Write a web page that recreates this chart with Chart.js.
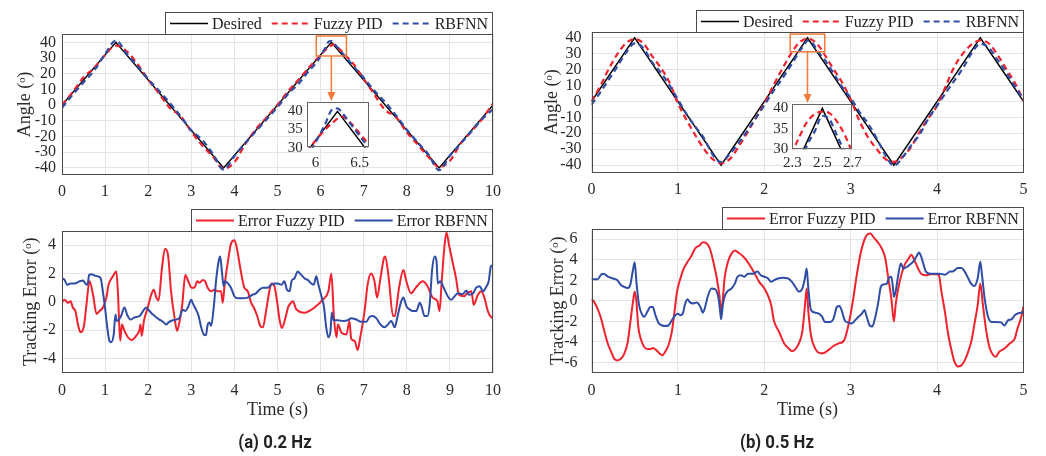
<!DOCTYPE html>
<html>
<head>
<meta charset="utf-8">
<script src="https://cdn.jsdelivr.net/npm/chart.js@4.4.1/dist/chart.umd.min.js"></script>
<style>
  body { margin: 0; background: #fff; }
  #page { position: relative; width: 1046px; height: 456px; overflow: hidden; }
  canvas { position: absolute; }
  .cap { position: absolute; transform: translateX(-50%) scaleX(0.93); font-family: Roboto, "Noto Sans", sans-serif;
         font-weight: bold; font-size: 18px; line-height: 20px; color: #222; white-space: nowrap; }
</style>
</head>
<body>
<div id="page">
  <canvas id="angleA" width="520" height="200" style="left:0;top:0"></canvas>
  <canvas id="angleB" width="526" height="200" style="left:520px;top:0"></canvas>
  <canvas id="errA" width="520" height="256" style="left:0;top:200px"></canvas>
  <canvas id="errB" width="526" height="256" style="left:520px;top:200px"></canvas>
  <canvas id="insetA" width="110" height="80" style="left:270px;top:98px"></canvas>
  <canvas id="insetB" width="115" height="80" style="left:752px;top:100px"></canvas>
  <div class="cap" style="left:275px;top:432px">(a) 0.2 Hz</div>
  <div class="cap" style="left:777px;top:432px">(b) 0.5 Hz</div>
</div>
<script>
// ---- 0.2 Hz run ----
const refTimeA = [0, 1.25, 3.75, 6.25, 8.75, 10];
const refAngleA = [0, 40, -40, 40, -40, 0];
const respTimeA = [0,0.25,0.5,0.75,1,1.25,1.5,1.75,2,2.25,2.5,2.75,3,3.25,3.5,3.75,4,4.25,4.5,4.75,5,5.25,5.5,5.75,
  5.9,6,6.1,6.2,6.25,6.3,6.4,6.5,6.6,
  6.75,7,7.25,7.5,7.75,8,8.25,8.5,8.75,9,9.25,9.5,9.75,10];
const fuzzyAngleA = [0,8.4,17.7,23.8,32,37.9,34.3,26.2,16.3,7.4,-1.8,-7.0,-17,-25.5,-32.8,-40.5,-36.4,-24.9,-15.2,-7.7,0.2,9,16.6,24.6,
  29.1,31.9,34.8,37.0,38.0,38.6,36.8,34.0,31.1,
  26.7,16.8,6.6,-3.2,-7.5,-17.4,-25.1,-33,-39.4,-35.5,-24.5,-16.7,-8.7,1.1];
const rbfAngleA = [-1.65,6.7,14.55,22.15,32.5,41.2,32.8,25,16.5,9.2,1.4,-7,-16.15,-22,-31,-41.1,-32.4,-24.25,-16.6,-9,-1.3,7.2,14,22.6,
  27.0,31.4,36.0,40.7,40.8,39.7,36.5,33.3,30.1,
  25.2,17.4,9.1,1.8,-6.5,-15.65,-23.6,-31.4,-41.4,-32.2,-24.5,-16.6,-8.8,-2.6];

const errTimeFA = [0,0.06,0.14,0.2,0.25,0.31,0.37,0.43,0.51,0.56,0.64,0.72,0.8,0.87,0.95,1.03,1.08,1.18,1.26,1.3,
  1.35,1.39,1.45,1.53,1.61,1.72,1.8,1.82,1.85,1.9,1.99,2.07,2.13,2.19,2.24,2.32,2.39,2.46,2.53,2.61,
  2.67,2.73,2.79,2.86,2.93,3.01,3.07,3.14,3.19,3.27,3.32,3.38,3.46,3.54,3.61,3.69,3.73,3.77,3.85,3.92,
  4,4.06,4.15,4.23,4.31,4.39,4.45,4.53,4.6,4.66,4.73,4.81,4.86,4.93,5,5.05,5.1,5.17,5.25,5.32,
  5.36,5.43,5.63,5.7,5.86,6.05,6.18,6.25,6.31,6.37,6.4,6.49,6.6,6.67,6.71,6.79,6.86,6.92,7.02,7.09,
  7.17,7.25,7.31,7.39,7.47,7.5,7.58,7.68,7.72,7.82,7.92,7.99,8.1,8.21,8.37,8.48,8.6,8.71,8.76,8.81,
  8.87,8.92,8.98,9.06,9.14,9.21,9.33,9.4,9.5,9.55,9.65,9.73,9.8,9.88,9.96,10];
const errFuzzyA = [0,0.15,-0.07,0.05,-0.4,-0.65,-1.6,-2.15,-1.7,-0.4,1.45,0.5,-0.85,-0.65,-0.4,0.3,1.2,1.8,2.15,0.5,
  -2.75,-1.6,-2.05,-2.5,-2.7,-2.4,-1.95,-1.6,-2.4,-1.35,-0.4,0.5,0.85,0.3,0.1,2.4,3.75,3.3,0.75,-1.1,
  -2.05,-1.35,-0.2,1.9,1.45,1.0,1.0,1.45,1.35,1.55,1.45,1.0,0.75,0.85,0.75,0.75,-0.07,1.1,2.85,4.1,
  4.35,3.75,2.15,1.0,0.75,-0.07,-0.4,-1.0,-1.7,-1.8,-0.75,0.75,1.3,1.1,-0.2,-1.3,-1.85,-1.3,-0.35,-0.05,
  0.05,-0.5,-0.77,-0.7,-0.4,0.15,0.75,2.0,-1.1,-2.5,-1.6,-2.2,-2.3,-1.35,-2.6,-2.75,-3.4,-2.5,-0.65,1.2,
  2.0,1.45,0.3,1.7,3.1,3.2,1.7,-1.0,-1.0,1.0,2.25,1.45,0.6,1.0,1.45,1.1,0.3,0.05,-0.65,1.45,
  3.8,4.9,4.0,2.85,1.7,0.5,0.4,0.6,0.75,-0.2,0.5,0.75,0.3,-0.65,-1.1,-1.15];

const errTimeRA = [0,0.06,0.12,0.2,0.29,0.41,0.49,0.54,0.59,0.63,0.68,0.76,0.83,0.9,0.93,0.99,1.05,1.1,1.14,1.2,
  1.24,1.27,1.32,1.37,1.45,1.51,1.59,1.68,1.8,1.88,1.95,2.03,2.11,2.19,2.26,2.34,2.42,2.47,2.57,2.65,
  2.73,2.8,2.86,2.92,3,3.03,3.11,3.17,3.23,3.29,3.34,3.38,3.42,3.46,3.52,3.58,3.64,3.67,3.71,3.75,
  3.78,3.85,3.92,4,4.08,4.19,4.31,4.42,4.5,4.58,4.66,4.77,4.85,4.93,5,5.09,5.16,5.22,5.28,5.33,
  5.39,5.47,5.55,5.63,5.7,5.78,5.84,5.9,5.95,6.01,6.08,6.13,6.18,6.23,6.26,6.3,6.4,6.52,6.63,6.71,
  6.83,6.94,7.06,7.14,7.21,7.29,7.39,7.48,7.56,7.64,7.72,7.78,7.86,7.92,7.99,8.07,8.14,8.22,8.3,8.35,
  8.41,8.48,8.53,8.59,8.65,8.69,8.72,8.78,8.84,8.95,9.03,9.11,9.19,9.3,9.38,9.44,9.54,9.61,9.69,9.77,
  9.85,9.9,9.95,10];
const errRbfA = [1.65,1.55,1.2,1.3,1.3,1.45,1.5,1.3,1.2,1.9,1.95,1.85,1.8,1.65,1.1,-0.2,-1.8,-2.75,-2.85,-2.3,
  -0.9,-1.35,-1.25,-1.0,-0.4,-0.9,-1.25,-1.1,-1.0,-0.65,-0.4,-0.65,-0.9,-1.1,-1.25,-1.4,-1.6,-1.45,-1.3,-1.25,
  -1.1,-0.55,-0.65,-0.4,0.15,-0.07,-0.55,-1.0,-1.8,-2.3,-2.35,-1.6,-1.45,-1.7,-0.4,1.65,2.95,3.2,2.15,1.1,
  1.45,1.3,1.0,0.4,0.25,0.25,0.3,0.5,0.6,0.85,1.0,1.0,1.2,1.3,1.3,1.2,1.45,0.85,0.75,1.5,
  1.65,2.15,1.9,1.65,1.55,1.3,1.2,1.8,1.2,0.5,-0.4,-1.8,-2.5,-2.05,-0.75,-1.3,-1.3,-1.35,-1.3,-1.15,
  -1.25,-1.4,-1.4,-1.05,-1.0,-1.15,-1.6,-1.8,-1.6,-1.35,-1.8,-1.1,-0.07,0.3,-0.3,-0.55,-0.65,-0.65,-0.07,-0.4,
  -1.0,-1.0,-0.2,2.35,3.2,2.85,1.3,1.45,1.1,0.4,0.15,0.4,0.6,0.55,0.8,0.5,0.6,1.0,1.1,0.75,
  1.1,1.45,2.5,2.6];

// ---- 0.5 Hz run ----
const refTimeB = [0, 0.5, 1.5, 2.5, 3.5, 4.5, 5];
const refAngleB = [0, 40, -40, 40, -40, 40, 0];
const respTimeB = [0,0.1,0.2,0.3,0.4,0.5,0.6,0.7,0.8,0.9,1,1.1,1.2,1.3,1.4,1.5,1.6,1.7,1.8,1.9,2,2.1,2.2,2.3,
  2.35,2.4,2.45,2.5,2.55,2.6,2.65,2.7,
  2.8,2.9,3,3.1,3.2,3.3,3.4,3.5,3.6,3.7,3.8,3.9,4,4.1,4.2,4.3,4.4,4.5,4.6,4.7,4.8,4.9,5];
const fuzzyAngleB = [-0.2,9.5,20.4,29.8,36.6,39.1,36.5,28.6,21.3,12.2,-1.2,-11.65,-21.1,-29.7,-36.1,-38.9,-36.3,-28.7,-19.9,-10.5,-1.2,9.5,19.6,29.2,
  33.3,36.8,38.6,39.2,38.8,36.7,33.5,29.2,
  20.4,12,1.2,-12.1,-22.5,-29.85,-36.15,-38,-34.9,-28.5,-18.9,-10.55,-2.6,9.6,21.9,30.1,35.8,38.3,36.4,29.2,20.5,11.65,0.55];
const rbfAngleB = [-2.1,5.55,13.7,22,30.7,36.5,33.45,24.7,18.3,10.35,1.25,-8,-15.8,-23,-33.2,-38.2,-33.05,-26.4,-18.6,-10.75,-2.35,6.05,13.75,22,
  26.4,31.1,34.4,38.2,37.2,33.2,29.4,26.05,
  17.75,9.05,2.2,-6.55,-13.9,-23.1,-33.65,-40.4,-35.3,-27.6,-20.6,-10.7,-2.65,5.4,13.1,21,30.4,36.2,33.65,26.05,18.1,9.4,1.05];

const errTimeFB = [0,0.03,0.07,0.11,0.15,0.19,0.23,0.26,0.3,0.34,0.38,0.42,0.45,0.48,0.5,0.52,0.54,0.57,0.61,0.65,
  0.68,0.71,0.75,0.79,0.82,0.85,0.89,0.93,0.96,0.99,1.03,1.06,1.1,1.15,1.2,1.25,1.29,1.33,1.37,1.41,
  1.45,1.48,1.5,1.52,1.54,1.58,1.62,1.66,1.7,1.74,1.79,1.83,1.89,1.94,1.99,2.04,2.08,2.11,2.17,2.23,
  2.29,2.32,2.36,2.4,2.44,2.47,2.49,2.51,2.54,2.59,2.65,2.68,2.74,2.8,2.86,2.92,2.95,2.99,3.03,3.07,
  3.11,3.15,3.19,3.23,3.26,3.31,3.36,3.4,3.43,3.47,3.5,3.52,3.55,3.59,3.63,3.67,3.7,3.73,3.78,3.82,
  3.88,3.93,3.99,4.02,4.05,4.09,4.13,4.17,4.2,4.24,4.28,4.32,4.36,4.4,4.43,4.47,4.5,4.53,4.57,4.61,
  4.65,4.68,4.72,4.78,4.84,4.9,4.93,4.97,5];
const errFuzzyB = [0.2,-0.1,-0.75,-1.7,-3.0,-4.2,-5.0,-5.6,-5.8,-5.65,-5.15,-4.0,-2.05,-0.1,0.9,-0.1,-2.4,-3.7,-4.5,-4.7,
  -4.7,-4.6,-4.8,-5.15,-5.3,-5.0,-4.35,-3.0,-1.1,0.9,2.2,3.0,3.65,4.3,5.1,5.4,5.7,5.6,5.1,3.8,
  2.2,0.55,-1.1,0.2,2.2,3.8,4.6,4.9,4.7,4.45,4.0,3.5,2.65,1.85,1.35,0.55,-0.4,-1.9,-3.0,-4.15,
  -4.7,-4.9,-4.7,-4.15,-3.0,-0.5,1.2,-1.05,-3.35,-4.65,-5.1,-5.1,-4.8,-4.4,-4.15,-3.9,-3.2,-1.7,0.25,2.5,
  4.45,5.75,6.45,6.55,6.25,5.75,5.1,4.15,2.5,0.25,-2.0,-0.4,1.2,2.65,3.6,4.1,4.5,4.1,3.15,2.6,
  2.5,2.6,2.6,2.5,0.9,-1.05,-3.35,-4.95,-5.9,-6.4,-6.3,-5.8,-4.95,-3.8,-2.35,-0.4,1.7,-0.4,-3.0,-4.65,
  -5.3,-5.45,-4.95,-4.65,-4.15,-3.65,-2.7,-1.7,-0.55];

const errTimeRB = [0,0.07,0.11,0.14,0.19,0.24,0.3,0.34,0.38,0.42,0.45,0.48,0.5,0.52,0.55,0.59,0.61,0.65,0.68,0.71,
  0.74,0.78,0.82,0.85,0.89,0.93,0.97,1,1.03,1.06,1.08,1.11,1.14,1.18,1.22,1.26,1.29,1.31,1.35,1.39,
  1.43,1.47,1.49,1.5,1.52,1.54,1.57,1.62,1.66,1.69,1.73,1.77,1.81,1.87,1.92,1.96,2,2.04,2.08,2.11,
  2.17,2.21,2.27,2.32,2.36,2.4,2.44,2.47,2.49,2.51,2.54,2.59,2.63,2.67,2.7,2.76,2.8,2.84,2.87,2.9,
  2.93,2.97,3.01,3.05,3.09,3.13,3.16,3.18,3.22,3.25,3.28,3.32,3.35,3.38,3.42,3.44,3.47,3.49,3.5,3.52,
  3.55,3.58,3.61,3.65,3.68,3.72,3.76,3.79,3.81,3.84,3.87,3.92,3.97,4.03,4.09,4.15,4.18,4.24,4.28,4.32,
  4.36,4.4,4.43,4.47,4.5,4.52,4.55,4.59,4.63,4.68,4.74,4.78,4.82,4.86,4.9,4.93,4.97,5];
const errRbfB = [2.1,2.1,2.55,2.65,2.35,2.2,2.0,1.55,1.35,1.25,1.6,3.0,3.75,1.85,-0.4,-1.4,-1.55,-1.0,-0.6,-0.6,
  -1.4,-2.2,-2.4,-2.45,-2.4,-1.9,-1.4,-1.25,-1.4,-1.15,-0.4,0.15,-0.15,-0.25,-0.15,-0.6,-1.15,-0.75,0.55,1.2,
  1.15,0.25,-1.1,-1.8,-0.4,0.4,0.9,1.2,1.7,2.35,2.5,2.35,2.65,2.65,2.85,2.5,2.35,2.2,1.85,2.0,
  2.2,2.25,2.2,1.85,1.35,0.9,1.2,2.2,3.15,1.2,-0.9,-1.15,-1.25,-1.55,-2.05,-2.05,-1.75,-0.6,-0.5,-1.05,
  -1.9,-2.1,-2.2,-1.9,-1.55,-1.25,-0.9,-1.4,-2.4,-2.5,-1.75,-0.1,1.4,1.6,1.7,2.2,2.35,1.2,0.4,0.9,
  2.5,3.65,3.15,3.3,3.5,3.8,4.3,4.7,4.45,3.65,2.85,2.65,2.65,2.65,2.55,2.85,2.85,3.2,3.2,2.85,
  2.2,1.6,1.45,2.2,3.8,2.5,0.25,-1.55,-2.05,-2.05,-2.1,-2.4,-1.9,-1.8,-1.4,-1.25,-1.15,-1.05];

// ticks
const xTicksA = [0,1,2,3,4,5,6,7,8,9,10];
const xTicksB = [0,1,2,3,4,5];
const angleTicks = [-40,-30,-20,-10,0,10,20,30,40];
const errTicksA = [-4,-2,0,2,4];
const errTicksB = [-6,-4,-2,0,2,4,6];
const insetTicksY = [30,35,40];
const insetTicksXA = [6,6.5];
const insetTicksXB = [2.3,2.5,2.7];

const RED = '#f0222e';
const BLUE = '#2f4da6';
const GRID = '#e4e4e4';
const EDGE = '#4a4a4a';
const ORANGE = '#f47a3a';

Chart.defaults.font.family = '"Liberation Serif", "Times New Roman", serif';
Chart.defaults.font.size = 16;
Chart.defaults.color = '#2a2a2a';

const pts = (ts, vs) => ts.map((t, i) => ({x: t, y: vs[i]}));

function axisSize(size) {
  return scale => {
    if (scale.isHorizontal()) scale.height = size; else scale.width = size;
    scale.paddingLeft = scale.paddingRight = scale.paddingTop = scale.paddingBottom = 0;
  };
}
function fixedTicks(values) {
  return scale => { scale.ticks = values.map(v => ({value: v})); };
}

// box around the plot area (white fill for the insets)
const frame = {
  id: 'frame',
  beforeDraw(chart, args, opts) {
    if (!opts.fill) return;
    const {ctx, chartArea: a} = chart;
    ctx.save();
    ctx.fillStyle = '#fff';
    ctx.fillRect(a.left, a.top, a.width, a.height);
    ctx.restore();
  },
  afterDraw(chart, args, opts) {
    const {ctx, chartArea: a} = chart;
    ctx.save();
    ctx.strokeStyle = opts.color || EDGE;
    ctx.lineWidth = 1;
    ctx.strokeRect(Math.round(a.left) + 0.5, Math.round(a.top) + 0.5,
                   Math.round(a.width) - 1, Math.round(a.height) - 1);
    ctx.restore();
  }
};

// legend in a bordered box sitting on top of the plot, right aligned
const boxLegend = {
  id: 'boxLegend',
  afterDraw(chart, args, opts) {
    if (!opts.show) return;
    const {ctx, chartArea: a} = chart;
    const sets = chart.data.datasets;
    const sample = 38, gap = 4, sep = 10, pad = 5, h = 22;
    ctx.save();
    ctx.font = '16px "Liberation Serif", serif';
    let w = pad * 2 - sep;
    sets.forEach(ds => { w += sample + gap + ctx.measureText(ds.label).width + sep; });
    const x0 = Math.round(a.right - w), y0 = Math.round(a.top - h);
    ctx.fillStyle = '#fff';
    ctx.fillRect(x0, y0, w, h);
    ctx.strokeStyle = EDGE;
    ctx.lineWidth = 1;
    ctx.strokeRect(x0 + 0.5, y0 + 0.5, Math.round(w) - 1, h);
    let x = x0 + pad;
    const yc = y0 + h / 2 + 0.5;
    sets.forEach(ds => {
      ctx.strokeStyle = ds.borderColor;
      ctx.lineWidth = ds.borderWidth;
      ctx.setLineDash(ds.borderDash || []);
      ctx.beginPath();
      ctx.moveTo(x, yc);
      ctx.lineTo(x + sample, yc);
      ctx.stroke();
      ctx.setLineDash([]);
      x += sample + gap;
      ctx.fillStyle = '#222';
      ctx.textBaseline = 'middle';
      ctx.fillText(ds.label, x, yc + 1);
      x += ctx.measureText(ds.label).width + sep;
    });
    ctx.restore();
  }
};

// orange zoom rectangle with an arrow pointing down to the inset
const zoomMark = {
  id: 'zoomMark',
  afterDraw(chart, args, opts) {
    if (!opts.box) return;
    const {ctx, scales: {x, y}} = chart;
    const [xa, xb, ya, yb] = opts.box;
    const l = x.getPixelForValue(xa), r = x.getPixelForValue(xb);
    const t = y.getPixelForValue(yb), b = y.getPixelForValue(ya);
    const ax = (l + r) / 2, ay = opts.arrowTo;
    ctx.save();
    ctx.strokeStyle = ORANGE;
    ctx.fillStyle = ORANGE;
    ctx.lineWidth = 1.5;
    ctx.strokeRect(l, t, r - l, b - t);
    ctx.beginPath();
    ctx.moveTo(ax, b);
    ctx.lineTo(ax, ay - 7);
    ctx.stroke();
    ctx.beginPath();
    ctx.moveTo(ax - 4, ay - 9);
    ctx.lineTo(ax + 4, ay - 9);
    ctx.lineTo(ax, ay);
    ctx.closePath();
    ctx.fill();
    ctx.restore();
  }
};

function angleSets(refT, refV, respT, fuzzyV, rbfV) {
  return [
    {label: 'Desired', data: pts(refT, refV), borderColor: '#000', borderWidth: 1.5, order: 3},
    {label: 'Fuzzy PID', data: pts(respT, fuzzyV), borderColor: RED, borderWidth: 2.2, borderDash: [6, 4],
     cubicInterpolationMode: 'monotone', order: 2},
    {label: 'RBFNN', data: pts(respT, rbfV), borderColor: BLUE, borderWidth: 2.2, borderDash: [6, 4],
     cubicInterpolationMode: 'monotone', order: 1}
  ];
}
function errorSets(tf, vf, tr, vr) {
  return [
    {label: 'Error Fuzzy PID', data: pts(tf, vf), borderColor: RED, borderWidth: 2,
     cubicInterpolationMode: 'monotone', order: 2},
    {label: 'Error RBFNN', data: pts(tr, vr), borderColor: BLUE, borderWidth: 2,
     cubicInterpolationMode: 'monotone', order: 1}
  ];
}

function makeChart(id, datasets, o) {
  return new Chart(document.getElementById(id), {
    type: 'line',
    data: {datasets},
    options: {
      responsive: false,
      animation: false,
      events: [],
      layout: {padding: o.pad},
      elements: {point: {radius: 0}, line: {fill: false, tension: 0}},
      plugins: {
        legend: {display: false},
        tooltip: {enabled: false},
        boxLegend: {show: !!o.legend},
        zoomMark: o.zoom || {},
        frame: {fill: !!o.inset, color: o.inset ? '#666' : EDGE}
      },
      scales: {
        x: {
          type: 'linear', min: o.xMin, max: o.xMax,
          afterFit: axisSize(o.xH), afterBuildTicks: fixedTicks(o.xTicks),
          grid: {display: !o.inset, color: GRID, drawTicks: false},
          border: {display: false},
          ticks: {padding: o.xPad, autoSkip: false, maxRotation: 0, callback: v => String(v),
                  font: {size: o.inset ? 15 : 16}},
          title: o.xTitle ? {display: true, text: o.xTitle, font: {size: 18}, padding: {top: 0, bottom: 0}}
                          : {display: false}
        },
        y: {
          type: 'linear', min: o.yMin, max: o.yMax,
          afterFit: axisSize(o.yW), afterBuildTicks: fixedTicks(o.yTicks),
          grid: {display: !o.inset, color: GRID, drawTicks: false},
          border: {display: false},
          ticks: {padding: o.yPad, autoSkip: false, callback: v => String(v),
                  font: {size: o.inset ? 15 : 16}},
          title: o.yTitle ? {display: true, text: o.yTitle, font: {size: 18}, padding: {top: o.yTitlePad, bottom: 0}}
                          : {display: false}
        }
      }
    },
    plugins: [frame, boxLegend, zoomMark]
  });
}

makeChart('angleA', angleSets(refTimeA, refAngleA, respTimeA, fuzzyAngleA, rbfAngleA), {
  pad: {left: 0, right: 27, top: 34, bottom: 0}, legend: true,
  xMin: 0, xMax: 10, xTicks: xTicksA, xH: 25, xPad: 7,
  yMin: -44.5, yMax: 45.3, yTicks: angleTicks, yW: 62, yPad: 6,
  yTitle: 'Angle (ᵒ)', yTitlePad: 14,
  zoom: {box: [5.9, 6.6, 31.3, 44], arrowTo: 101}
});
makeChart('angleB', angleSets(refTimeB, refAngleB, respTimeB, fuzzyAngleB, rbfAngleB), {
  pad: {left: 0, right: 22.5, top: 31.7, bottom: 0}, legend: true,
  xMin: 0, xMax: 5, xTicks: xTicksB, xH: 27.3, xPad: 7,
  yMin: -44.8, yMax: 43.8, yTicks: angleTicks, yW: 71.5, yPad: 10,
  yTitle: 'Angle (ᵒ)', yTitlePad: 21,
  zoom: {box: [2.3, 2.7, 31.2, 42.3], arrowTo: 103}
});
makeChart('errA', errorSets(errTimeFA, errFuzzyA, errTimeRA, errRbfA), {
  pad: {left: 0, right: 27, top: 31, bottom: 35.2}, legend: true,
  xMin: 0, xMax: 10, xTicks: xTicksA, xH: 48.1, xPad: 8, xTitle: 'Time (s)',
  yMin: -5, yMax: 5, yTicks: errTicksA, yW: 62, yPad: 6,
  yTitle: 'Tracking Error (ᵒ)', yTitlePad: 20
});
makeChart('errB', errorSets(errTimeFB, errFuzzyB, errTimeRB, errRbfB), {
  pad: {left: 0, right: 22.5, top: 29, bottom: 35.2}, legend: true,
  xMin: 0, xMax: 5, xTicks: xTicksB, xH: 48.1, xPad: 8, xTitle: 'Time (s)',
  yMin: -7, yMax: 7, yTicks: errTicksB, yW: 71.5, yPad: 14,
  yTitle: 'Tracking Error (ᵒ)', yTitlePad: 27
});

// magnified views of one peak
makeChart('insetA', angleSets(refTimeA, refAngleA, respTimeA, fuzzyAngleA, rbfAngleA), {
  inset: true, pad: {left: 0, right: 11.7, top: 4.3, bottom: 0},
  xMin: 5.9, xMax: 6.6, xTicks: insetTicksXA, xH: 30.3, xPad: 6,
  yMin: 30, yMax: 42.5, yTicks: insetTicksY, yW: 36.7, yPad: 4
});
makeChart('insetB', angleSets(refTimeB, refAngleB, respTimeB, fuzzyAngleB, rbfAngleB), {
  inset: true, pad: {left: 0, right: 14.7, top: 4.3, bottom: 0},
  xMin: 2.3, xMax: 2.7, xTicks: insetTicksXB, xH: 30.7, xPad: 5,
  yMin: 30, yMax: 41, yTicks: insetTicksY, yW: 40.3, yPad: 4
});
</script>
</body>
</html>
